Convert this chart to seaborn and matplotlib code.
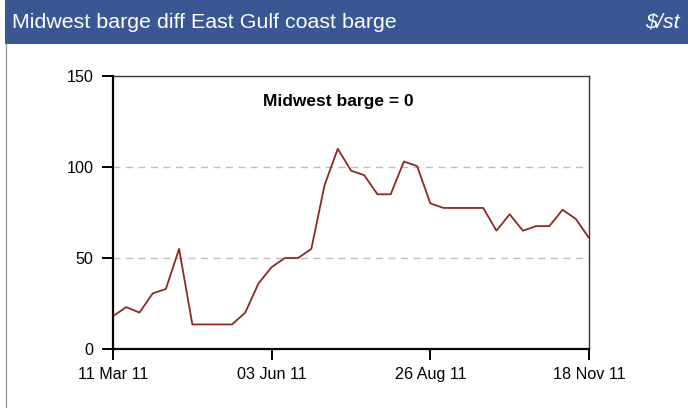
import matplotlib
matplotlib.use("Agg")
import matplotlib.pyplot as plt
import matplotlib.dates as mdates
import seaborn as sns
import pandas as pd
from matplotlib.patches import Rectangle
from matplotlib.lines import Line2D

# Weekly spread, Midwest barge minus East Gulf coast barge ($/st)
start_date = "2011-03-11"
spread = [18, 23, 20, 30.5, 33, 55, 13.5, 13.5, 13.5, 13.5, 20, 36, 45, 50, 50,
          55, 90, 110, 98, 95.5, 85, 85, 103, 100.5, 80, 77.5, 77.5, 77.5, 77.5,
          65, 74, 65, 67.5, 67.5, 76.5, 71.5, 61]
tick_dates = ["2011-03-11", "2011-06-03", "2011-08-26", "2011-11-18"]
y_ticks = [0, 50, 100, 150]
title = "Midwest barge diff East Gulf coast barge"
unit = "$/st"
note = "Midwest barge = 0"

df = pd.DataFrame({
    "date": pd.date_range(start_date, periods=len(spread), freq="7D"),
    "spread": spread,
})

sns.set_theme(style="white")
plt.rcParams["font.family"] = ["Liberation Sans", "DejaVu Sans"]

W, H = 688, 408
fig = plt.figure(figsize=(W / 100, H / 100), dpi=100)

# header band and panel border
fig.patches.append(Rectangle((5 / W, 1 - 44 / H), 1 - 5 / W, 44 / H,
                             transform=fig.transFigure, facecolor="#3a5794",
                             edgecolor="none", zorder=0))
fig.lines.append(Line2D([5.5 / W, 5.5 / W], [0, 1 - 44 / H], transform=fig.transFigure,
                        color="#9a9a9a", lw=1.0))
fig.text(12 / W, 1 - 22 / H, title, color="white", fontsize=15.4, va="center", ha="left")
fig.text(1 - 8 / W, 1 - 22 / H, unit, color="white", fontsize=15.4, va="center",
         ha="right", style="italic")

ax = fig.add_axes([113 / W, 1 - 349 / H, (589 - 113) / W, (349 - 76) / H])
sns.lineplot(data=df, x="date", y="spread", ax=ax, color="#8b2a22", lw=1.3)

ax.set_xlim(pd.Timestamp(tick_dates[0]), pd.Timestamp(tick_dates[-1]))
ax.set_ylim(0, 150)
ax.set_xticks([pd.Timestamp(d) for d in tick_dates])
ax.xaxis.set_major_formatter(mdates.DateFormatter("%d %b %y"))
ax.set_yticks(y_ticks)
ax.set_xlabel("")
ax.set_ylabel("")

for y in [50, 100]:
    ax.axhline(y, color="#bdbdbd", lw=1.0, ls=(0, (5, 4)), zorder=0)

for side in ["left", "bottom"]:
    ax.spines[side].set_color("black")
    ax.spines[side].set_linewidth(1.6)
for side in ["top", "right"]:
    ax.spines[side].set_color("#333333")
    ax.spines[side].set_linewidth(1.0)

ax.tick_params(axis="both", which="major", direction="out", length=8, width=1.4,
               color="black", labelsize=11.6, labelcolor="black",
               left=True, bottom=True)
ax.tick_params(axis="y", pad=6)
ax.tick_params(axis="x", pad=5)

ax.text(0.473, 0.905, note, transform=ax.transAxes, ha="center", va="center",
        fontsize=12.5, fontweight="bold", color="black")

fig.savefig("out.png", dpi=100)
